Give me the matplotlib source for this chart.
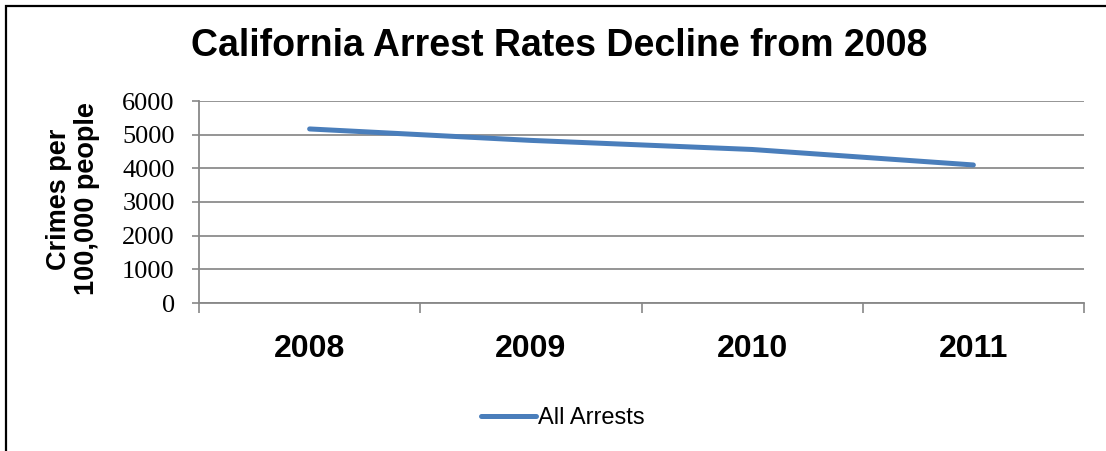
import matplotlib
matplotlib.use("Agg")
import matplotlib.pyplot as plt
from matplotlib.patches import Rectangle
from matplotlib.ticker import FixedLocator, NullFormatter

years = ["2008", "2009", "2010", "2011"]
all_arrests = [5170, 4830, 4560, 4100]
y_ticks = [0, 1000, 2000, 3000, 4000, 5000, 6000]

fig = plt.figure(figsize=(11.06, 4.51), dpi=100)
fig.patch.set_facecolor("white")
ax = fig.add_axes([199/1106, 1-303/451, (1084-199)/1106, (303-101)/451])

xs = [i + 0.5 for i in range(len(years))]
ax.plot(xs, all_arrests, color="#4A7EBB", lw=3.6, solid_capstyle="round", label="All Arrests")

ax.set_xlim(0, len(years))
ax.set_ylim(0, 6000)
ax.set_yticks(y_ticks)
ax.set_yticklabels([str(v) for v in y_ticks], fontfamily="Liberation Serif", fontsize=19)
ax.xaxis.set_major_locator(FixedLocator(range(len(years) + 1)))
ax.xaxis.set_major_formatter(NullFormatter())
ax.xaxis.set_minor_locator(FixedLocator(xs))
ax.set_xticklabels(years, minor=True, fontfamily="Liberation Sans", fontweight="bold", fontsize=23)
ax.tick_params(axis="x", which="minor", length=0, pad=22)
ax.tick_params(axis="x", which="major", length=7, color="#888888", width=1.2)
ax.tick_params(axis="y", length=5, color="#888888", width=1.2, pad=12.5)
ax.grid(axis="y", color="#8c8c8c", lw=1.3)
ax.set_axisbelow(True)
for s in ["top", "right"]:
    ax.spines[s].set_visible(False)
for s in ["left", "bottom"]:
    ax.spines[s].set_color("#888888")
    ax.spines[s].set_linewidth(1.3)

fig.text(73/1106, 1-199/451, "Crimes per\n100,000 people", rotation=90, ha="center", va="center",
         multialignment="center", fontfamily="Liberation Sans", fontweight="bold",
         fontsize=19.5, linespacing=1.15)

fig.text(559/1106, 1-46/451, "California Arrest Rates Decline from 2008", ha="center", va="center",
         fontfamily="Liberation Sans", fontweight="bold", fontsize=27)

fig.legend(handles=ax.get_lines(), loc="center", bbox_to_anchor=(563/1106, 1-418/451),
           frameon=False, prop={"family": "Liberation Sans", "size": 17},
           handlelength=2.3, handletextpad=0.1)

fig.patches.append(Rectangle((6/1106, -0.1), 1.2, 1.1 - 6/451, transform=fig.transFigure,
                             fill=False, edgecolor="black", lw=1.6, figure=fig))

fig.savefig("out.png", dpi=100)
